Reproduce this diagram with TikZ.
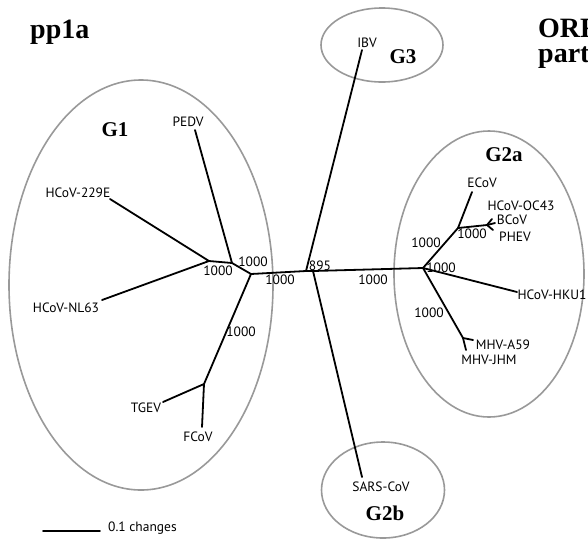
\documentclass[tikz,border=0pt]{standalone}
\usepackage{fontspec}
\setmainfont{Liberation Serif}
\newfontfamily\taxfont{PT Sans}
\usetikzlibrary{positioning, shapes.geometric}

\begin{document}
\begin{tikzpicture}[x=1pt, y=-1pt,
  br/.style={line width=1.8pt, line cap=round, line join=round},
  grp/.style={ellipse, draw=gray!80, line width=1.6pt, inner sep=0pt},
  tax/.style={font=\taxfont\fontsize{13.5}{14}\selectfont, inner sep=0pt},
  gname/.style={font=\fontsize{21}{24}\selectfont\bfseries, inner sep=0pt},
  ttl/.style={font=\fontsize{28}{25}\selectfont\bfseries, inner sep=0pt, anchor=base west, align=left}]
  \useasboundingbox (0,0) rectangle (588,539);
  \clip (0,0) rectangle (588,539);

  \node[ttl] (ttl1) at (30,38) {pp1a};
  \node[ttl] (ttl2) at (538,62) {ORF\\part};

  \node[grp, minimum width=264pt, minimum height=410pt] (g1box) at (141,285) {};
  \node[grp, minimum width=190pt, minimum height=286pt] (g2abox) at (489,274) {};
  \node[grp, minimum width=122pt, minimum height=74pt] (g3box) at (382,45) {};
  \node[grp, minimum width=123pt, minimum height=96pt] (g2bbox) at (383,490) {};

  \node[gname] (g1) at (115,130) {G1};
  \node[gname] (g2a) at (504,155) {G2a};
  \node[gname] (g3) at (403,57) {G3};
  \node[gname] (g2b) at (385,513) {G2b};

  \coordinate (nA) at (209,261);
  \coordinate (nB) at (232,263);
  \coordinate (nC) at (251,274);
  \coordinate (nD) at (204,384);
  \coordinate (nR) at (306,271);
  \coordinate (nS) at (313,271);
  \coordinate (nE) at (423,268);
  \coordinate (nF) at (458,228);
  \coordinate (nG) at (487,225);
  \coordinate (nH) at (463,338);

  \coordinate (tPEDV) at (195,130);
  \coordinate (t229E) at (110,199);
  \coordinate (tNL63) at (102,300);
  \coordinate (tTGEV) at (163,402);
  \coordinate (tFCoV) at (202,427);
  \coordinate (tIBV) at (362,50);
  \coordinate (tSARS) at (362,477);
  \coordinate (tECoV) at (472,192);
  \coordinate (tOC43) at (492,219);
  \coordinate (tBCoV) at (495,223);
  \coordinate (tPHEV) at (493,230);
  \coordinate (tHKU1) at (517,292);
  \coordinate (tA59) at (473,340);
  \coordinate (tJHM) at (466,350);

  \node[tax] (lPEDV) at (188,122) {PEDV};
  \node[tax] (l229E) at (78,193) {HCoV-229E};
  \node[tax] (lNL63) at (66,308) {HCoV-NL63};
  \node[tax] (lTGEV) at (146,408) {TGEV};
  \node[tax] (lFCoV) at (198,437) {FCoV};
  \node[tax] (lIBV) at (367,43) {IBV};
  \node[tax] (lSARS) at (381,487) {SARS-CoV};
  \node[tax] (lECoV) at (482,183) {ECoV};
  \node[tax] (lOC43) at (521,206) {HCoV-OC43};
  \node[tax] (lBCoV) at (512,220) {BCoV};
  \node[tax] (lPHEV) at (515,237) {PHEV};
  \node[tax] (lHKU1) at (552,295) {HCoV-HKU1};
  \node[tax] (lA59) at (503,345) {MHV-A59};
  \node[tax] (lJHM) at (489,360) {MHV-JHM};

  \node[tax] (bA) at (218,271) {1000};
  \node[tax] (bB) at (253,262) {1000};
  \node[tax] (bC) at (280,280) {1000};
  \node[tax] (bD) at (241,332) {1000};
  \node[tax] (bR) at (320,266) {895};
  \node[tax] (bS) at (373,280) {1000};
  \node[tax] (bE) at (441,268) {1000};
  \node[tax] (bF) at (426,243) {1000};
  \node[tax] (bG) at (472,234) {1000};
  \node[tax] (bH) at (429,313) {1000};

  \draw[br] (t229E) -- (nA) -- (tNL63);
  \draw[br] (nA) -- (nB) -- (tPEDV);
  \draw[br] (nB) -- (nC) -- (nD) -- (tTGEV);
  \draw[br] (nD) -- (tFCoV);
  \draw[br] (nC) -- (nR) -- (tIBV);
  \draw[br] (nR) -- (nS) -- (nE);
  \draw[br] (nS) -- (tSARS);
  \draw[br] (nE) -- (nF) -- (tECoV);
  \draw[br] (nF) -- (nG) -- (tOC43);
  \draw[br] (nG) -- (tBCoV);
  \draw[br] (nG) -- (tPHEV);
  \draw[br] (nE) -- (tHKU1);
  \draw[br] (nE) -- (nH) -- (tA59);
  \draw[br] (nH) -- (tJHM);

  \draw[br] (43,531) coordinate (sb1) -- (100,531) coordinate (sb2);
  \node[tax, anchor=west] (sbl) at (108,528) {0.1 changes};
\end{tikzpicture}
\end{document}
